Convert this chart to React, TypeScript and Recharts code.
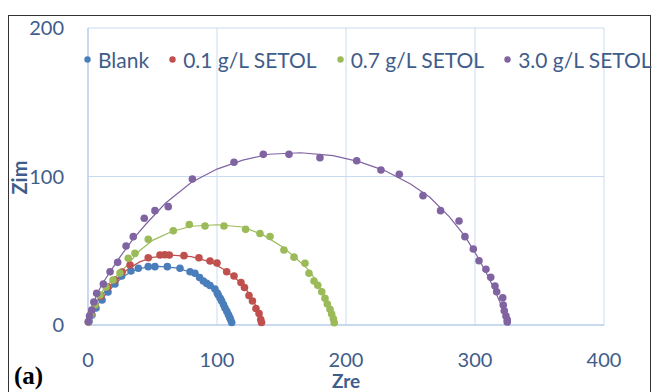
import { ScatterChart, Scatter, XAxis, YAxis, CartesianGrid, Legend } from 'recharts';

// measured points (Zre, Zim)
const blankPts = [
  [0.8, 2.7], [3.1, 6.7], [6.2, 11.4], [10.9, 16.8], [15.5, 22.2], [20.9, 27.6], [26.1, 33.0],
  [33.3, 36.4], [39.0, 38.2], [46.7, 39.3], [51.9, 39.3], [61.5, 39.3], [71.3, 38.2], [79.1, 35.9],
  [82.9, 34.8], [86.5, 32.0], [89.4, 29.6], [92.0, 28.0], [94.6, 26.6], [98.4, 24.2], [100.2, 21.5],
  [101.0, 20.2], [102.5, 18.0], [103.6, 16.2], [105.0, 13.8], [106.2, 11.4], [107.6, 9.2],
  [108.8, 7.1], [109.8, 5.2], [110.5, 3.7], [111.4, 1.7],
];
const p01Pts = [
  [0.4, 2.0], [2.3, 7.4], [5.4, 13.5], [10.1, 19.5], [15.5, 25.6], [20.9, 30.3], [26.4, 35.7],
  [32.6, 40.4], [46.7, 45.3], [55.8, 47.1], [59.5, 47.3], [63.0, 47.1], [74.4, 46.7], [86.0, 45.3],
  [94.6, 43.1], [100.0, 41.8], [107.5, 35.9], [113.2, 33.0], [118.6, 28.6], [121.3, 25.3],
  [124.8, 19.9], [127.5, 16.2], [130.2, 11.1], [132.6, 7.7], [133.9, 3.7], [134.5, 1.7],
];
const p07Pts = [
  [0.4, 2.0], [2.3, 6.7], [5.4, 13.5], [9.3, 20.2], [14.0, 25.6], [19.4, 30.3], [24.8, 35.0],
  [31.2, 44.9], [36.4, 48.3], [46.7, 57.7], [66.1, 63.5], [78.5, 67.7], [90.7, 66.7], [105.4, 66.7],
  [122.2, 64.4], [133.3, 61.6], [141.1, 59.6], [151.9, 50.5], [159.7, 45.7], [168.2, 41.5],
  [171.3, 34.8], [175.2, 29.6], [178.1, 26.7], [181.2, 22.4], [183.7, 18.0], [185.5, 14.1],
  [187.6, 10.6], [188.9, 7.4], [190.2, 4.2], [190.9, 1.5],
];
const p30Pts = [
  [0.2, 2.2], [1.2, 6.0], [2.9, 10.1], [4.5, 15.5], [6.7, 21.3], [11.9, 27.6], [17.1, 35.9],
  [23.0, 42.2], [29.5, 53.2], [35.1, 59.5], [43.6, 71.9], [51.9, 77.0], [62.2, 79.7], [80.9, 98.3],
  [113.2, 109.6], [135.9, 114.9], [155.8, 114.9], [179.8, 112.7], [208.3, 110.6], [227.1, 104.4],
  [241.3, 101.5], [259.7, 87.1], [273.3, 77.0], [287.6, 70.0], [292.2, 59.5], [298.7, 51.2],
  [303.1, 43.3], [308.5, 37.5], [312.2, 32.1], [315.5, 26.3], [316.8, 22.4], [321.5, 18.4],
  [321.9, 13.5], [322.7, 9.6], [324.0, 6.1], [325.0, 3.4], [325.0, 2.0],
];

// fitted curves
const blankFit = [
  [0, 0], [2, 5.5], [5, 11], [10, 16.5], [15, 22], [21, 27.5], [27, 32.5], [35, 36.5], [45, 39],
  [55, 39.5], [68, 38.5], [80, 35.5], [90, 30], [97, 25], [102, 19], [106, 12.5], [109, 6.5],
  [111, 2], [111.5, 0],
];
const p01Fit = [
  [0, 0], [2, 7], [5, 13.5], [10, 19.5], [16, 25.5], [22, 30], [30, 37], [40, 42.5], [50, 45.5],
  [65, 47], [80, 46], [95, 42.5], [105, 37.5], [113, 32.5], [120, 27], [125, 21], [129, 15],
  [132, 9], [134, 3], [134.5, 0],
];
const p07Fit = [
  [0, 0], [2, 7], [5, 14], [9, 20], [14, 26], [20, 31], [30, 40], [40, 50], [50, 57], [65, 63],
  [80, 66.5], [100, 67.5], [120, 66], [135, 61], [150, 53], [160, 46], [170, 38], [177, 30],
  [183, 20], [187, 12], [190, 5], [191, 0],
];
const p30Fit = [
  [0, 0], [3, 11], [7, 21], [12, 29], [18, 37], [25, 46], [35, 58], [45, 68], [60, 82], [80, 96],
  [100, 105], [120, 111], [140, 115], [165, 116], [190, 114], [210, 110], [230, 104], [250, 95],
  [265, 86], [280, 73], [292, 60], [302, 46], [310, 33], [316, 22], [321, 12], [324, 5], [325, 0],
];

const seriesNames = ['Blank', '0.1 g/L SETOL', '0.7 g/L SETOL', '3.0 g/L SETOL'];
const seriesColors = ['#4a7ebb', '#c0504d', '#9bbb59', '#8064a2'];
const seriesPts = [blankPts, p01Pts, p07Pts, p30Pts];
const seriesFits = [blankFit, p01Fit, p07Fit, p30Fit];

const xTicks = [0, 100, 200, 300, 400];
const yTicks = [0, 100, 200];

const toRows = (arr: number[][]) => arr.map(([x, y]) => ({ x, y }));

const textColor = '#3f5d8a';
const font = 'Lato, "Open Sans", sans-serif';

const LegendBox = () => (
  <div style={{ display: 'flex', alignItems: 'center', width: 'max-content', fontFamily: font, fontSize: 21, color: textColor, whiteSpace: 'nowrap' }}>
    {seriesNames.map((n, i) => (
      <div key={n} style={{ display: 'flex', alignItems: 'center', flexShrink: 0, marginRight: 20 }}>
        <svg width={7} height={7} style={{ marginRight: 7 }}>
          <circle cx={3.5} cy={3.5} r={3.2} fill={seriesColors[i]} />
        </svg>
        <span>{n}</span>
      </div>
    ))}
  </div>
);

export default function App() {
  return (
    <div style={{ position: 'absolute', left: 0, top: 0, width: 652, height: 392, overflow: 'hidden', background: '#fff' }}>
      <div style={{ position: 'absolute', left: 8, top: 15, width: 641, height: 400, border: '1px solid #333' }} />
      <ScatterChart width={652} height={392} margin={{ top: 28, right: 48, left: 0, bottom: 0 }}>
        <CartesianGrid stroke="#c9dbf1" strokeWidth={1} />
        <XAxis
          type="number"
          dataKey="x"
          domain={[0, 400]}
          ticks={xTicks}
          height={67}
          tickLine={false}
          tickSize={0}
          tickMargin={28}
          axisLine={{ stroke: '#aec7e8' }}
          tick={{ fill: textColor, fontSize: 20, fontFamily: font }}
          label={(p: any) => (
            <text x={p.viewBox.x + p.viewBox.width / 2} y={388} textAnchor="middle" fill={textColor}
              fontFamily={font} fontWeight="bold" fontSize={19}>Zre</text>
          )}
        />
        <YAxis
          type="number"
          dataKey="y"
          domain={[0, 200]}
          ticks={yTicks}
          width={88}
          tickLine={false}
          tickSize={0}
          tickMargin={24}
          axisLine={{ stroke: '#aec7e8' }}
          tick={{ fill: textColor, fontSize: 20, fontFamily: font }}
          label={(p: any) => {
            const cx = p.viewBox.x + 19;
            const cy = p.viewBox.y + p.viewBox.height / 2 + 1;
            return (
              <text x={cx} y={cy} transform={`rotate(-90 ${cx} ${cy})`} textAnchor="middle" dominantBaseline="central"
                fill={textColor} fontFamily={font} fontWeight="bold" fontSize={20}>Zim</text>
            );
          }}
        />
        <Legend
          verticalAlign="middle"
          align="center"
          wrapperStyle={{ top: 47, left: 84, width: 'auto', overflow: 'visible' }}
          content={() => <LegendBox />}
        />
        {seriesFits.map((f, i) => (
          <Scatter
            key={`fit-${i}`}
            data={toRows(f)}
            line={{ stroke: seriesColors[i], strokeWidth: 1.2 }}
            lineType="joint"
            shape={() => <g />}
            legendType="none"
            isAnimationActive={false}
          />
        ))}
        {seriesPts.map((pts, i) => (
          <Scatter
            key={seriesNames[i]}
            name={seriesNames[i]}
            data={toRows(pts)}
            fill={seriesColors[i]}
            shape={(p: any) => <circle cx={p.cx} cy={p.cy} r={3.8} fill={seriesColors[i]} />}
            isAnimationActive={false}
          />
        ))}
      </ScatterChart>
      <div style={{ position: 'absolute', left: 14, top: 362, fontFamily: '"Liberation Serif", serif', fontWeight: 'bold', fontSize: 25, color: '#000' }}>(a)</div>
    </div>
  );
}
